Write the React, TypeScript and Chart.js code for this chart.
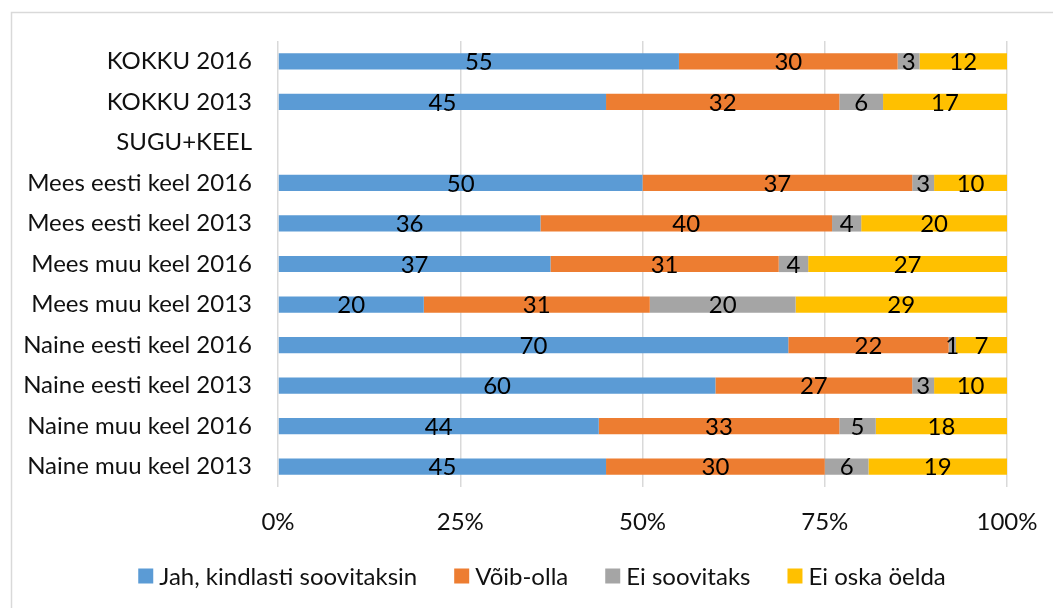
import React, { useEffect, useRef } from "react";
import { Chart, registerables } from "chart.js";

Chart.register(...registerables);

const categories = [
  "KOKKU 2016",
  "KOKKU 2013",
  "SUGU+KEEL",
  "Mees eesti keel 2016",
  "Mees eesti keel 2013",
  "Mees muu keel 2016",
  "Mees muu keel 2013",
  "Naine eesti keel 2016",
  "Naine eesti keel 2013",
  "Naine muu keel 2016",
  "Naine muu keel 2013",
];

const seriesNames = ["Jah, kindlasti soovitaksin", "Võib-olla", "Ei soovitaks", "Ei oska öelda"];
const jah = [55, 45, null, 50, 36, 37, 20, 70, 60, 44, 45];
const voib = [30, 32, null, 37, 40, 31, 31, 22, 27, 33, 30];
const eiSoov = [3, 6, null, 3, 4, 4, 20, 1, 3, 5, 6];
const eiOska = [12, 17, null, 10, 20, 27, 29, 7, 10, 18, 19];
const colors = ["#5B9BD5", "#ED7D31", "#A5A5A5", "#FFC000"];
const xTicks = [0, 25, 50, 75, 100];

const FONT = "Lato";
const FS = 24;

export default function App() {
  const ref = useRef<HTMLCanvasElement | null>(null);

  useEffect(() => {
    if (!ref.current) return;
    const raw = [jah, voib, eiSoov, eiOska];
    const sums = categories.map((_, i) =>
      raw.reduce((s, arr) => s + (arr[i] ?? 0), 0)
    );
    const datasets = raw.map((arr, k) => ({
      label: seriesNames[k],
      data: arr.map((v, i) => (v == null ? null : (v / sums[i]) * 100)),
      rawValues: arr,
      backgroundColor: colors[k],
      borderWidth: 0,
      barPercentage: 0.8,
      categoryPercentage: 0.5,
    }));

    const labelPlugin = {
      id: "segLabels",
      afterDatasetsDraw(chart: any) {
        const ctx = chart.ctx;
        ctx.save();
        ctx.font = `${FS}px ${FONT}`;
        ctx.fillStyle = "#000";
        ctx.textAlign = "center";
        ctx.textBaseline = "middle";
        chart.data.datasets.forEach((ds: any, di: number) => {
          const meta = chart.getDatasetMeta(di);
          meta.data.forEach((bar: any, i: number) => {
            const v = ds.rawValues[i];
            if (v == null) return;
            const p = bar.getProps(["x", "y", "base"], true);
            ctx.fillText(String(v), (p.x + p.base) / 2, p.y + 1);
          });
        });
        ctx.restore();
      },
    };

    const legendPlugin = {
      id: "customLegend",
      afterDraw(chart: any) {
        const ctx = chart.ctx;
        ctx.save();
        ctx.font = `${FS}px ${FONT}`;
        ctx.textBaseline = "middle";
        ctx.textAlign = "left";
        const box = 15;
        const gapBoxText = 6;
        const gapItems = 37;
        const widths = chart.data.datasets.map((ds: any) => ctx.measureText(ds.label).width);
        const total =
          widths.reduce((s: number, w: number) => s + w + box + gapBoxText, 0) +
          gapItems * (widths.length - 1);
        let x = 542 - total / 2;
        const y = 576;
        chart.data.datasets.forEach((ds: any, i: number) => {
          ctx.fillStyle = ds.backgroundColor;
          ctx.fillRect(x, y - box / 2, box, box);
          ctx.fillStyle = "#111";
          ctx.fillText(ds.label, x + box + gapBoxText, y + 1);
          x += box + gapBoxText + widths[i] + gapItems;
        });
        ctx.restore();
      },
    };

    const borderPlugin = {
      id: "outerBorder",
      beforeDraw(chart: any) {
        const ctx = chart.ctx;
        ctx.save();
        ctx.fillStyle = "#fff";
        ctx.fillRect(0, 0, chart.width, chart.height);
        ctx.strokeStyle = "#d9d9d9";
        ctx.lineWidth = 1.5;
        ctx.strokeRect(11.5, 12.5, 1200, 800);
        ctx.restore();
      },
    };

    const chart = new Chart(ref.current, {
      type: "bar",
      data: { labels: categories, datasets: datasets as any },
      options: {
        indexAxis: "y",
        responsive: false,
        animation: false,
        layout: { padding: { left: 12, right: 46, top: 41, bottom: 61 } },
        scales: {
          x: {
            stacked: true,
            min: 0,
            max: 100,
            afterBuildTicks(axis: any) {
              axis.ticks = xTicks.map((v) => ({ value: v }));
            },
            afterFit(axis: any) {
              axis.height = 60;
              axis.paddingLeft = 0;
              axis.paddingRight = 0;
            },
            grid: { color: "#d9d9d9", lineWidth: 1.5, drawTicks: false },
            border: { display: false },
            ticks: {
              padding: 21,
              color: "#111",
              font: { family: FONT, size: FS },
              callback: (v: any) => v + "%",
            },
          },
          y: {
            stacked: true,
            afterFit(axis: any) {
              axis.width = 266;
            },
            grid: { display: false, drawTicks: false },
            border: { display: false },
            ticks: {
              padding: 26,
              color: "#111",
              font: { family: FONT, size: FS },
            },
          },
        },
        plugins: {
          legend: { display: false },
          tooltip: { enabled: false },
        },
      },
      plugins: [borderPlugin, labelPlugin, legendPlugin],
    });
    return () => chart.destroy();
  }, []);

  return (
    <div style={{ position: "absolute", left: 0, top: 0, width: 1053, height: 608 }}>
      <canvas ref={ref} width={1053} height={608} />
    </div>
  );
}
